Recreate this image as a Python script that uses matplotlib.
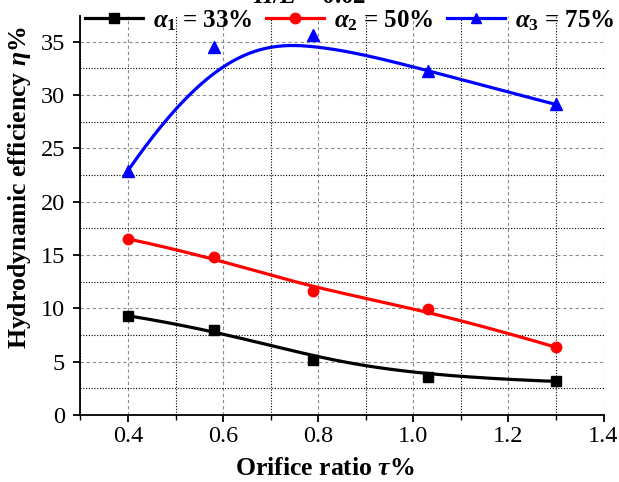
import numpy as np
import matplotlib
matplotlib.use("Agg")
import matplotlib.pyplot as plt
from matplotlib.ticker import MultipleLocator

plt.rcParams['font.family'] = 'Liberation Serif'
plt.rcParams['mathtext.fontset'] = 'custom'
plt.rcParams['mathtext.rm'] = 'Liberation Serif:bold'
plt.rcParams['mathtext.it'] = 'Liberation Serif:italic:bold'
plt.rcParams['mathtext.bf'] = 'Liberation Serif:bold'

# data
orifice_ratio = [0.4, 0.58, 0.79, 1.03, 1.3]
eff_a1 = [9.3, 8.0, 5.2, 3.6, 3.15]
eff_a2 = [16.5, 14.8, 11.6, 9.9, 6.35]
eff_a3 = [22.9, 34.5, 35.6, 32.2, 29.1]
labels = [r'$\alpha_1$ = 33%', r'$\alpha_2$ = 50%', r'$\alpha_3$ = 75%']
colors = ['black', 'red', 'blue']
markers = ['s', 'o', '^']


def bspline_curve(xs, ys, num=300, degree=3):
    """Clamped B-spline using the data points as control points (like Origin's B-spline line)."""
    cx, cy = np.asarray(xs, float), np.asarray(ys, float)
    n = len(cx)
    k = min(degree, n - 1)
    knots = np.concatenate([np.zeros(k), np.linspace(0, 1, n - k + 1), np.ones(k)])
    t = np.linspace(0, 1, num)
    t[-1] -= 1e-9
    B = np.zeros((num, len(knots) - 1))
    for i in range(len(knots) - 1):
        B[:, i] = (knots[i] <= t) & (t < knots[i + 1])
    for d in range(1, k + 1):
        Bn = np.zeros((num, len(knots) - 1 - d))
        for i in range(len(knots) - 1 - d):
            left = knots[i + d] - knots[i]
            right = knots[i + d + 1] - knots[i + 1]
            term = np.zeros(num)
            if left > 0:
                term += (t - knots[i]) / left * B[:, i]
            if right > 0:
                term += (knots[i + d + 1] - t) / right * B[:, i + 1]
            Bn[:, i] = term
        B = Bn
    return B @ cx, B @ cy


fig = plt.figure(figsize=(6.19, 4.82), dpi=100)
ax = fig.add_axes([0.130, 0.139, 0.845, 0.828])

for ys, lab, c, m in zip([eff_a1, eff_a2, eff_a3], labels, colors, markers):
    sx, sy = bspline_curve(orifice_ratio, ys)
    ax.plot(sx, sy, color=c, linewidth=2.3, zorder=3)
    ax.plot(orifice_ratio, ys, linestyle='none', marker=m, color=c,
            markersize=7.5 if m != '^' else 8.5, zorder=4, clip_on=False)
    # legend proxy
    ax.plot([], [], color=c, linewidth=2.3, marker=m, markersize=7.5, label=lab)

ax.set_xlim(0.3, 1.4)
ax.set_ylim(0, 37.4)
ax.xaxis.set_major_locator(MultipleLocator(0.2))
ax.xaxis.set_minor_locator(MultipleLocator(0.1))
ax.yaxis.set_major_locator(MultipleLocator(5))
ax.yaxis.set_minor_locator(MultipleLocator(2.5))
ax.set_xticks([0.4, 0.6, 0.8, 1.0, 1.2, 1.4])
ax.set_xticklabels(['0.4', '0.6', '0.8', '1.0', '1.2', '1.4'])

ax.grid(True, which='major', color='#8c8c8c', linestyle=(0, (3, 2.5)), linewidth=0.8)
ax.grid(True, which='minor', color='black', linestyle=(0, (1, 1.5)), linewidth=0.8)
ax.set_axisbelow(True)

for side in ['top', 'right']:
    ax.spines[side].set_visible(False)
for side in ['left', 'bottom']:
    ax.spines[side].set_linewidth(1.3)

ax.tick_params(which='major', direction='out', length=5, width=1.3, labelsize=17.5)
ax.tick_params(axis='x', which='major', pad=3)
ax.tick_params(axis='y', which='major', pad=6)
ax.tick_params(axis='x', which='minor', direction='out', length=3.5, width=1.0)
ax.tick_params(axis='y', which='minor', length=0)

ax.set_xlabel(r'Orifice ratio $\tau$%', fontsize=18.5, fontweight='bold')
ax.set_ylabel(r'Hydrodynamic efficiency $\eta$%', fontsize=18.5, fontweight='bold')
ax.xaxis.set_label_coords(0.468, -0.105)
ax.yaxis.set_label_coords(-0.091, 0.569)

fig.text(310 / 619, 1 - 3 / 482, r'$H/L$ = 0.02', ha='center', va='baseline',
         fontsize=18, fontweight='bold')

fig.legend(loc='center', bbox_to_anchor=(0.565, 0.958), ncol=3, frameon=False,
           prop={'size': 18, 'weight': 'bold'}, handlelength=2.32,
           handletextpad=0.4, columnspacing=0.52, borderpad=0, borderaxespad=0)

fig.savefig('out.png', dpi=100)
